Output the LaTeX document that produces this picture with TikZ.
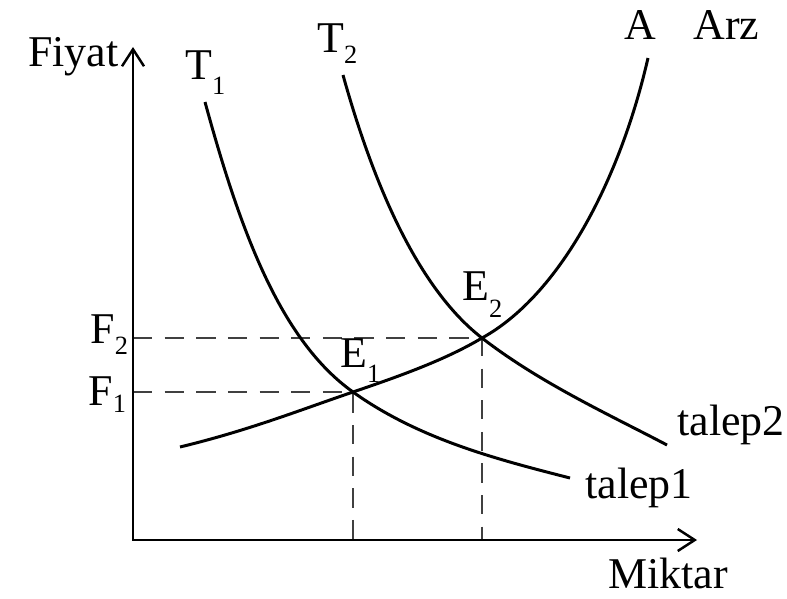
\documentclass[tikz,border=0pt]{standalone}
\usepackage{fontspec}
\setmainfont{Liberation Serif}
\usetikzlibrary{arrows.meta}
% alt indis: #1 = ne kadar aşağı, #2 = rakam
\newcommand{\altind}[2]{\raisebox{-#1}{\fontsize{15pt}{18pt}\selectfont #2}}
\begin{document}
\begin{tikzpicture}[x=0.02cm, y=-0.02cm,
  lbl/.style={inner sep=0pt, anchor=base west, font=\fontsize{25pt}{30pt}\selectfont},
  axis/.style={line width=1.6pt, line join=miter,
    {Straight Barb[length=3.4mm,width=4.4mm,line width=1.4pt]}-{Straight Barb[length=3.4mm,width=4.4mm,line width=1.4pt]}},
  curve/.style={line width=1.7pt},
  guide/.style={line width=1.1pt, black!75, dash pattern=on 11pt off 7pt}]
  \useasboundingbox (0,0) rectangle (787,598);
  % eksenler ve denge noktaları
  \coordinate (o) at (133,540);
  \coordinate (ytop) at (133,47);
  \coordinate (xend) at (697,540);
  \coordinate (e1) at (353,392);
  \coordinate (e2) at (482,338);
  % kesikli yardımcı çizgiler
  \draw[guide] (o |- e1) -- (e1) -- (e1 |- o);
  \draw[guide] (o |- e2) -- (e2) -- (e2 |- o);
  \draw[axis] (ytop) -- (o) -- (xend);
  % talep eğrileri
  \draw[curve] (205,102) .. controls (240,230) and (280,340) .. (e1)
    .. controls (420,440) and (500,460) .. (570,478);
  \draw[curve] (343,75) .. controls (375,190) and (420,290) .. (e2)
    .. controls (540,383) and (610,415) .. (667,445);
  % arz eğrisi
  \draw[curve] (180,447) .. controls (250,430) and (300,410) .. (e1)
    .. controls (400,376) and (445,360) .. (e2)
    .. controls (560,295) and (620,180) .. (648,58);
  % yazılar
  \node[lbl] (fiyat) at (28,67) {Fiyat};
  \node[lbl] (miktar) at (608,588) {Miktar};
  \node[lbl] (t1) at (185,80) {T\altind{8.5pt}{1}};
  \node[lbl] (t2) at (317,53) {T\altind{5.7pt}{2}};
  \node[lbl] (a) at (624,40) {A};
  \node[lbl] (arz) at (693,40) {Arz};
  \node[lbl] (f2) at (90,343) {F\altind{6.8pt}{2}};
  \node[lbl] (f1) at (88,405) {F\altind{4.5pt}{1}};
  \node[lbl] (e1lbl) at (340,367) {E\altind{9pt}{1}};
  \node[lbl] (e2lbl) at (462,300) {E\altind{9.7pt}{2}};
  \node[lbl] (talep2) at (677,435) {talep2};
  \node[lbl] (talep1) at (585,498) {talep1};
\end{tikzpicture}
\end{document}
